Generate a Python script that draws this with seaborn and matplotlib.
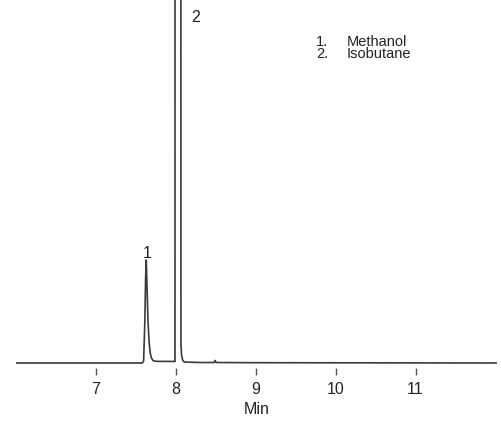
import matplotlib
matplotlib.use("Agg")
import matplotlib.pyplot as plt
import seaborn as sns
import pandas as pd

# Chromatogram trace: retention time (min) and detector response (arbitrary units)
time_min = [6.00, 7.58, 7.597, 7.612, 7.622, 7.630, 7.640, 7.652, 7.665, 7.680,
            7.695, 7.715, 7.740, 7.800, 7.900, 7.985, 7.990, 8.027, 8.064, 8.072,
            8.085, 8.105, 8.300, 8.480, 8.492, 8.505, 9.00, 12.02]
response = [0.0, 0.0, 2.0, 40.0, 85.0, 103.0, 75.0, 42.0, 22.0, 10.0,
            5.0, 2.5, 1.8, 1.6, 1.6, 1.5, 1.5, 40000.0, 20.0, 8.0,
            3.0, 1.0, 0.5, 0.5, 2.5, 0.5, 0.3, 0.0]

# Peak annotations
peak_numbers = ["1", "2"]
peak_times = [7.64, 8.25]
peak_label_heights = [110, 346]

compound_names = ["Methanol", "Isobutane"]
tick_values = [7, 8, 9, 10, 11]

df = pd.DataFrame({"Min": time_min, "Response": response})

sns.set_style("white")
plt.rcParams["font.family"] = ["Liberation Sans", "DejaVu Sans"]

fig = plt.figure(figsize=(5.01, 4.38), dpi=100)
ax = fig.add_axes([16 / 501, 70 / 438, 481 / 501, 368 / 438])

sns.lineplot(data=df, x="Min", y="Response", ax=ax, color="#3a3a3a",
             linewidth=1.2, estimator=None, sort=False)

ax.set_xlim(6.0, 12.02)
ax.set_ylim(-5, 363)
for side in ["top", "right", "left", "bottom"]:
    ax.spines[side].set_visible(False)

ax.set_xticks(tick_values)
ax.set_xticklabels([str(t) for t in tick_values])
ax.set_yticks([])
ax.tick_params(axis="x", direction="out", length=5, width=1.0, color="#555555",
               pad=5, labelsize=11.5, labelcolor="#222222", bottom=True)
ax.set_xlabel("Min", fontsize=11.5, color="#222222", labelpad=4)
ax.set_ylabel("")

for num, t, h in zip(peak_numbers, peak_times, peak_label_heights):
    ax.text(t, h, num, ha="center", va="center", fontsize=11.5, color="#222222")

# Compound key in the upper right
for i, name in enumerate(compound_names):
    y_fig = 1 - (42 + i * 12.5) / 438
    fig.text(316 / 501, y_fig, f"{i + 1}.", ha="left", va="center",
             fontsize=10.5, color="#222222")
    fig.text(347 / 501, y_fig, name, ha="left", va="center",
             fontsize=10.5, color="#222222")

fig.savefig("out.png", dpi=100, facecolor="white")
